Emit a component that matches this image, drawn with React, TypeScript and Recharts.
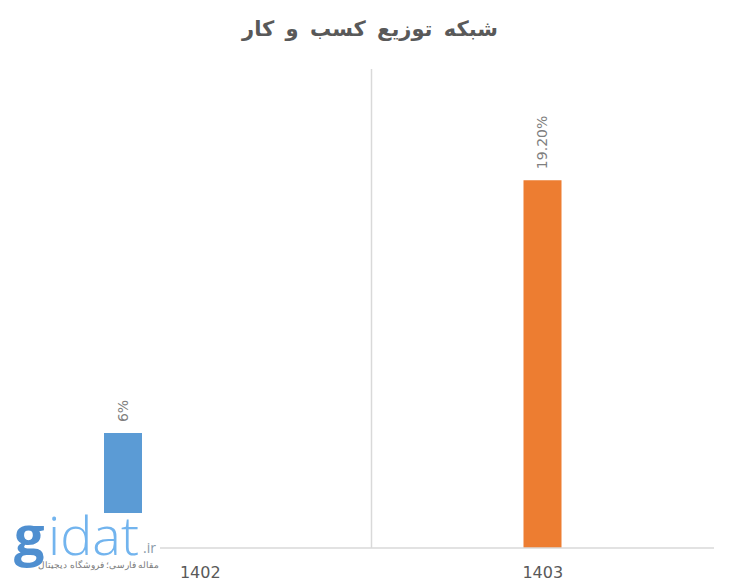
import React from 'react';
import { BarChart, Bar, XAxis, YAxis, CartesianGrid, LabelList } from 'recharts';

const categories = ['1402', '1403'];
const series1402 = [6, null];
const series1403 = [null, 19.2];
const spacer = [null, null];
const labels1402 = ['6%', ''];
const labels1403 = ['', '19.20%'];

const chartData = categories.map((year, i) => ({
  year,
  s1402: series1402[i],
  s1403: series1403[i],
  spacer: spacer[i],
  l1402: labels1402[i],
  l1403: labels1403[i],
}));

const FONT = '"DejaVu Sans", sans-serif';

const renderLabel = (props: any) => {
  const { x, y, width, value } = props;
  if (!value) return null;
  const cx = Number(x) + Number(width) / 2;
  const cy = Number(y) - 11;
  return (
    <text
      x={cx}
      y={cy}
      transform={`rotate(-90, ${cx}, ${cy})`}
      textAnchor="start"
      dominantBaseline="central"
      fill="#7f7f7f"
      fontSize={14}
      fontFamily={FONT}
    >
      {value}
    </text>
  );
};

const logoText = {
  position: 'absolute' as const,
  top: 0,
  height: 42,
  fontFamily: '"Open Sans", sans-serif',
  fontSize: 54,
  lineHeight: '42px',
  whiteSpace: 'nowrap' as const,
};

export default function App() {
  return (
    <div style={{ position: 'absolute', left: 0, top: 0, width: 740, height: 585, background: '#fff' }}>
      <div
        style={{
          position: 'absolute',
          top: 17,
          left: 0,
          width: 740,
          textAlign: 'center',
          direction: 'rtl',
          fontFamily: FONT,
          fontWeight: 'bold',
          fontSize: 21,
          color: '#595959',
          wordSpacing: 4,
        }}
      >
        شبکه توزیع کسب و کار
      </div>
      <BarChart
        width={740}
        height={585}
        data={chartData}
        margin={{ top: 69, right: 26, left: 29, bottom: 0 }}
        barSize={38}
        barGap={39}
      >
        <CartesianGrid
          horizontal={false}
          stroke="#d9d9d9"
          strokeWidth={1.5}
          verticalCoordinatesGenerator={({ offset }: any) => [offset.left + offset.width / 2]}
        />
        <XAxis
          dataKey="year"
          height={37}
          tickLine={false}
          tickSize={0}
          tickMargin={19}
          axisLine={{ stroke: '#d9d9d9', strokeWidth: 1.5 }}
          tick={{ fill: '#595959', fontSize: 16, fontFamily: FONT }}
        />
        <YAxis hide domain={[0, 25]} />
        <Bar dataKey="s1402" fill="#5b9bd5" isAnimationActive={false}>
          <LabelList dataKey="l1402" content={renderLabel} />
        </Bar>
        <Bar dataKey="s1403" fill="#ed7d31" isAnimationActive={false}>
          <LabelList dataKey="l1403" content={renderLabel} />
        </Bar>
        <Bar dataKey="spacer" fill="transparent" isAnimationActive={false} />
      </BarChart>
      <div
        style={{
          position: 'absolute',
          left: 14,
          top: 513,
          width: 146,
          height: 62,
          background: '#fff',
        }}
      >
        <div style={{ ...logoText, left: 0, color: '#4f8fd0', fontWeight: 'bold' }}>g</div>
        <div style={{ ...logoText, left: 34, color: '#72b4ee', fontWeight: 300 }}>idat</div>
        <div
          style={{
            position: 'absolute',
            left: 129,
            top: 28,
            fontFamily: '"Open Sans", sans-serif',
            fontSize: 14,
            lineHeight: '14px',
            color: '#8a9aa8',
          }}
        >
          .ir
        </div>
        <div
          style={{
            position: 'absolute',
            right: 1,
            top: 47,
            direction: 'rtl',
            fontFamily: '"Noto Sans", sans-serif',
            fontSize: 8.5,
            lineHeight: '10px',
            color: '#7a7a7a',
            whiteSpace: 'nowrap',
          }}
        >
          مقاله فارسی؛ فروشگاه دیجیتال
        </div>
      </div>
    </div>
  );
}
